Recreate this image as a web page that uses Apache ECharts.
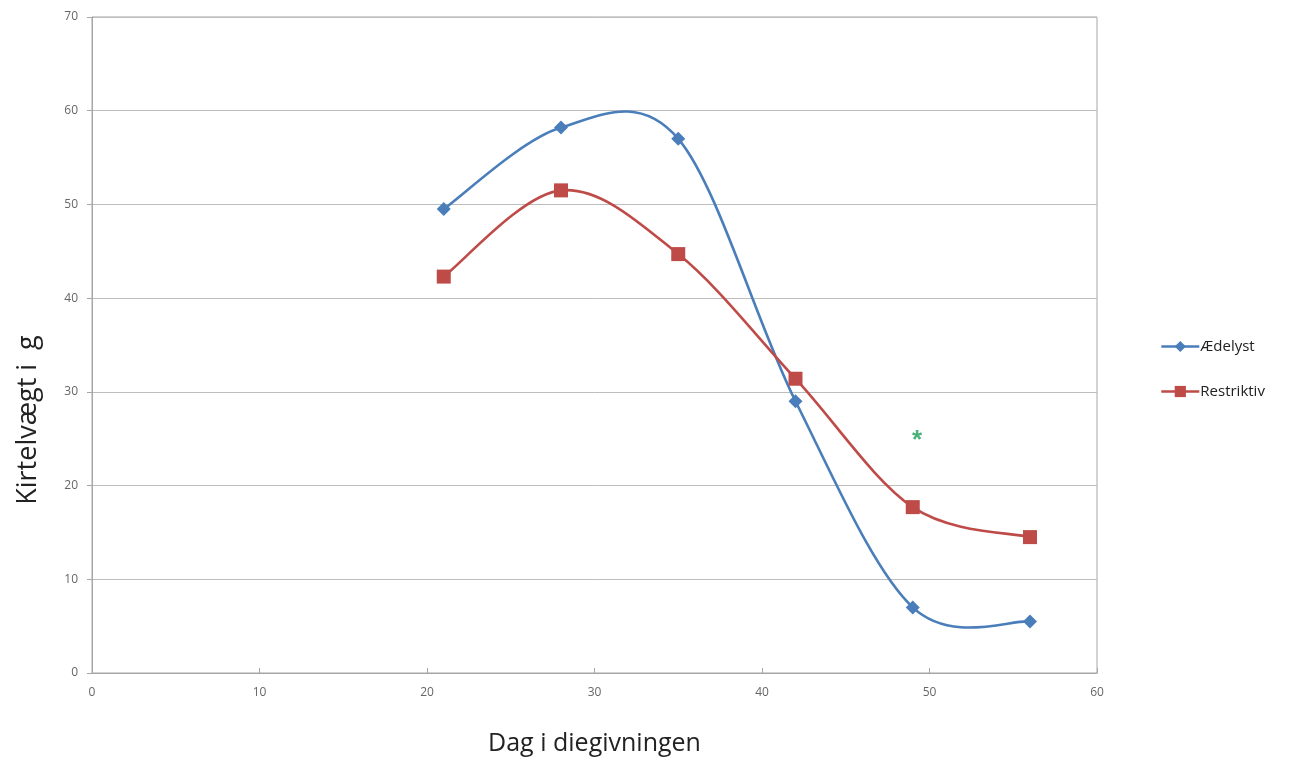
<!DOCTYPE html>
<html>
<head>
<meta charset="utf-8">
<script src="https://cdn.jsdelivr.net/npm/echarts@6/dist/echarts.min.js"></script>
<style>html,body{margin:0;padding:0;background:#fff;}#c{width:1297px;height:763px;}</style>
</head>
<body>
<div id="c"></div>
<script>
const days = [21, 28, 35, 42, 49, 56];
const aedelyst = [49.5, 58.2, 57.0, 29.0, 7.0, 5.5];
const restriktiv = [42.3, 51.5, 44.7, 31.4, 17.7, 14.5];
const starPoint = [49.25, 25.4];
const seriesNames = ['Ædelyst', 'Restriktiv'];
const xTicks = [0, 10, 20, 30, 40, 50, 60];
const yTicks = [0, 10, 20, 30, 40, 50, 60, 70];

const colors = ['#4a7ebb', '#be4b48'];
const font = 'Open Sans, Noto Sans, sans-serif';

// Smooth curve (Catmull-Rom style, like a spreadsheet "smoothed line"), drawn segment by segment
function curveSeries(values, color) {
  return {
    type: 'custom', silent: true, z: 2,
    data: days.map((d, i) => [d, values[i]]),
    encode: { x: 0, y: 1 },
    renderItem: function (params, api) {
      const i = params.dataIndex;
      const n = days.length;
      if (i >= n - 1) return null;
      const P = k => api.coord([days[Math.max(0, Math.min(n - 1, k))], values[Math.max(0, Math.min(n - 1, k))]]);
      const p0 = P(i - 1), p1 = P(i), p2 = P(i + 1), p3 = P(i + 2);
      return {
        type: 'bezierCurve',
        shape: {
          x1: p1[0], y1: p1[1], x2: p2[0], y2: p2[1],
          cpx1: p1[0] + (p2[0] - p0[0]) / 6, cpy1: p1[1] + (p2[1] - p0[1]) / 6,
          cpx2: p2[0] - (p3[0] - p1[0]) / 6, cpy2: p2[1] - (p3[1] - p1[1]) / 6
        },
        style: { stroke: color, lineWidth: 2.6, fill: null }
      };
    }
  };
}

const chart = echarts.init(document.getElementById('c'));
chart.setOption({
  animation: false,
  backgroundColor: '#fff',
  grid: { left: 92, right: 200, top: 17, bottom: 90, show: true, borderColor: '#a6a6a6', borderWidth: 1 },
  legend: {
    data: seriesNames, orient: 'vertical', left: 1160, top: 339, itemGap: 30, padding: 0,
    itemWidth: 38, itemHeight: 14,
    lineStyle: { opacity: 1, width: 2.6 },
    textStyle: { color: '#222', fontSize: 15, fontFamily: font, padding: [0, 0, 0, -4] }
  },
  graphic: [{
    type: 'text', x: 28, y: 420, rotation: Math.PI / 2,
    style: { text: 'Kirtelvægt i  g', fill: '#222', font: '27px ' + font, textAlign: 'center', textVerticalAlign: 'middle' }
  }],
  xAxis: {
    type: 'value', min: xTicks[0], max: xTicks[xTicks.length - 1], interval: 10,
    name: 'Dag i diegivningen', nameLocation: 'middle', nameGap: 58,
    nameTextStyle: { color: '#222', fontSize: 25, fontFamily: font },
    axisLine: { show: true, lineStyle: { color: '#a6a6a6' } },
    axisTick: { show: true, inside: true, length: 5, lineStyle: { color: '#a6a6a6' } },
    axisLabel: { color: '#666', fontSize: 12, margin: 14, fontFamily: font },
    splitLine: { show: false }
  },
  yAxis: {
    type: 'value', min: yTicks[0], max: yTicks[yTicks.length - 1], interval: 10,
    axisLine: { show: true, lineStyle: { color: '#a6a6a6' } },
    axisTick: { show: true, length: 5, lineStyle: { color: '#a6a6a6' } },
    axisLabel: { color: '#666', fontSize: 12, margin: 14, fontFamily: font },
    splitLine: { show: true, lineStyle: { color: '#bdbdbd', width: 1 } }
  },
  series: [
    curveSeries(aedelyst, colors[0]),
    curveSeries(restriktiv, colors[1]),
    {
      name: seriesNames[0], type: 'line', z: 3,
      data: days.map((d, i) => [d, aedelyst[i]]),
      symbol: 'diamond', symbolSize: 14,
      lineStyle: { color: colors[0], width: 2.6, opacity: 0 },
      itemStyle: { color: colors[0] }
    },
    {
      name: seriesNames[1], type: 'line', z: 3,
      data: days.map((d, i) => [d, restriktiv[i]]),
      symbol: 'rect', symbolSize: 14,
      lineStyle: { color: colors[1], width: 2.6, opacity: 0 },
      itemStyle: { color: colors[1] }
    },
    {
      name: 'star', type: 'scatter', data: [starPoint], symbolSize: 1,
      itemStyle: { color: 'rgba(0,0,0,0)' },
      label: { show: true, position: 'inside', formatter: '*', color: '#1e9e5a', fontSize: 26, fontWeight: 'bold', offset: [0, 6] },
      silent: true
    }
  ]
});
</script>
</body>
</html>
